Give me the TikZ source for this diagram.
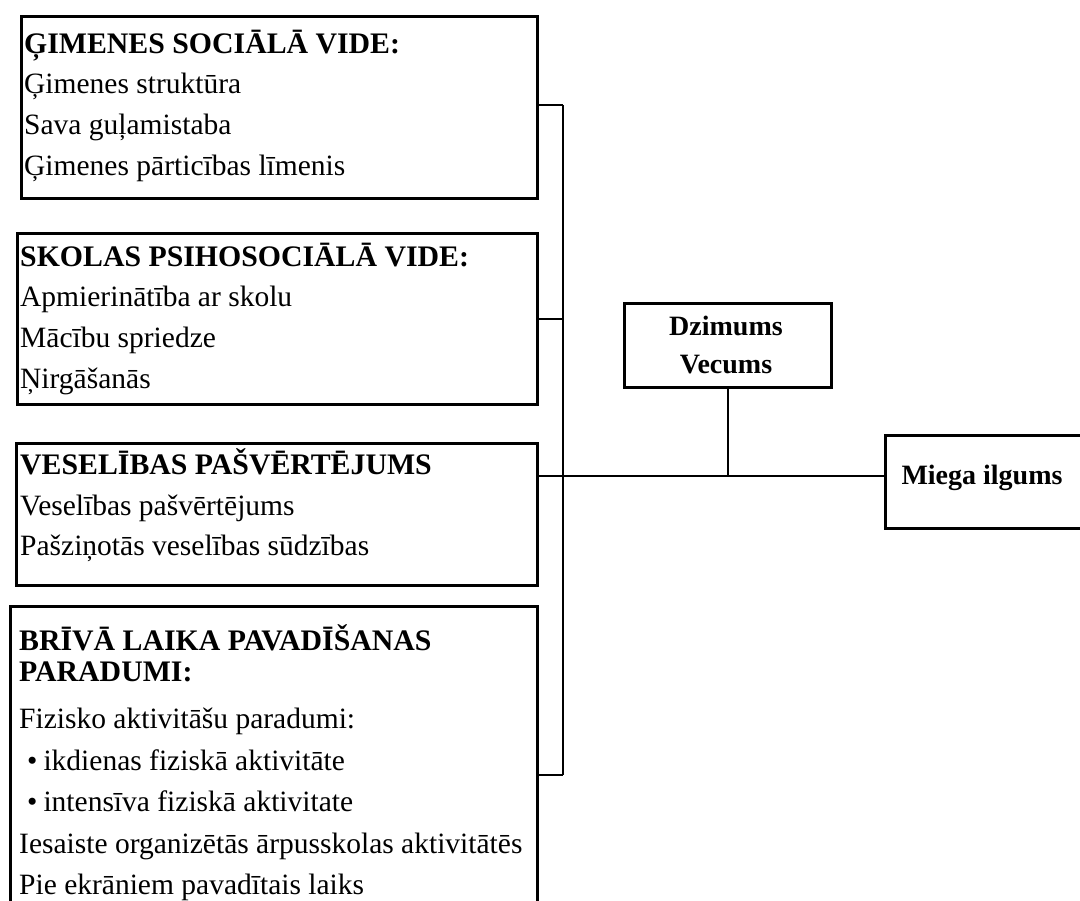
\documentclass[tikz,border=0pt]{standalone}
\usepackage{fontspec}
\setmainfont{Liberation Serif}
\begin{document}
\begin{tikzpicture}[x=1pt,y=-1pt,
  box/.style={draw, line width=2.6pt, anchor=north west, inner sep=0pt},
  txt/.style={anchor=base west, inner sep=0pt, font=\fontsize{29.5}{34}\selectfont},
  hdr/.style={txt, font=\fontsize{29.8}{34}\selectfont\bfseries},
  ctr/.style={anchor=base, inner sep=0pt, font=\fontsize{28}{34}\selectfont\bfseries},
  link/.style={draw, line width=1.4pt}]
\useasboundingbox (0,0) rectangle (1080,901);
\clip (0,0) rectangle (1080,901);
% boxes
\node[box, minimum width=516pt, minimum height=182pt] (b1) at (20,15) {};
\node[box, minimum width=520pt, minimum height=171pt] (b2) at (16,232) {};
\node[box, minimum width=521pt, minimum height=142pt] (b3) at (15,442) {};
\node[box, minimum width=527pt, minimum height=360pt] (b4) at (9,605) {};
\node[box, minimum width=207pt, minimum height=84pt] (dv) at (623,302) {};
\node[box, minimum width=230pt, minimum height=93pt] (mi) at (884,434) {};
% box 1
\node[hdr] (b1h) at (24,54) {ĢIMENES SOCIĀLĀ VIDE:};
\node[txt] (b1a) at (24,94) {Ģimenes struktūra};
\node[txt] (b1b) at (24,135) {Sava guļamistaba};
\node[txt] (b1c) at (24,176) {Ģimenes pārticības līmenis};
% box 2
\node[hdr] (b2h) at (20,267) {SKOLAS PSIHOSOCIĀLĀ VIDE:};
\node[txt] (b2a) at (20,307) {Apmierinātība ar skolu};
\node[txt] (b2b) at (20,348) {Mācību spriedze};
\node[txt] (b2c) at (20,389) {Ņirgāšanās};
% box 3
\node[hdr] (b3h) at (20,475) {VESELĪBAS PAŠVĒRTĒJUMS};
\node[txt] (b3a) at (20,515) {Veselības pašvērtējums};
\node[txt] (b3b) at (20,555) {Pašziņotās veselības sūdzības};
% box 4
\node[hdr] (b4h) at (19,650) {BRĪVĀ LAIKA PAVADĪŠANAS};
\node[hdr] (b4i) at (19,681) {PARADUMI:};
\node[txt] (b4a) at (19,728) {Fizisko aktivitāšu paradumi:};
\node[txt] (b4b) at (27,770) {•\hspace{6pt}ikdienas fiziskā aktivitāte};
\node[txt] (b4c) at (27,811) {•\hspace{6pt}intensīva fiziskā aktivitate};
\node[txt] (b4d) at (19,853) {Iesaiste organizētās ārpusskolas aktivitātēs};
\node[txt] (b4e) at (19,894) {Pie ekrāniem pavadītais laiks};
% centre boxes
\node[ctr] (dv1) at (726,336) {Dzimums};
\node[ctr] (dv2) at (726,374) {Vecums};
\node[ctr] (mit) at (982,485) {Miega ilgums};
% connectors
\coordinate (j1) at (563,105);
\coordinate (j2) at (563,319);
\coordinate (j3) at (563,476);
\coordinate (j4) at (563,775);
\draw[link] (j1) -- (j4);
\draw[link] (b1.east |- j1) -- (j1);
\draw[link] (b2.east |- j2) -- (j2);
\draw[link] (b3.east |- j3) -- (j3);
\draw[link] (b4.east |- j4) -- (j4);
\draw[link] (j3) -- (mi.west |- j3);
\draw[link] (dv.south) -- (dv.south |- j3);
\end{tikzpicture}
\end{document}
